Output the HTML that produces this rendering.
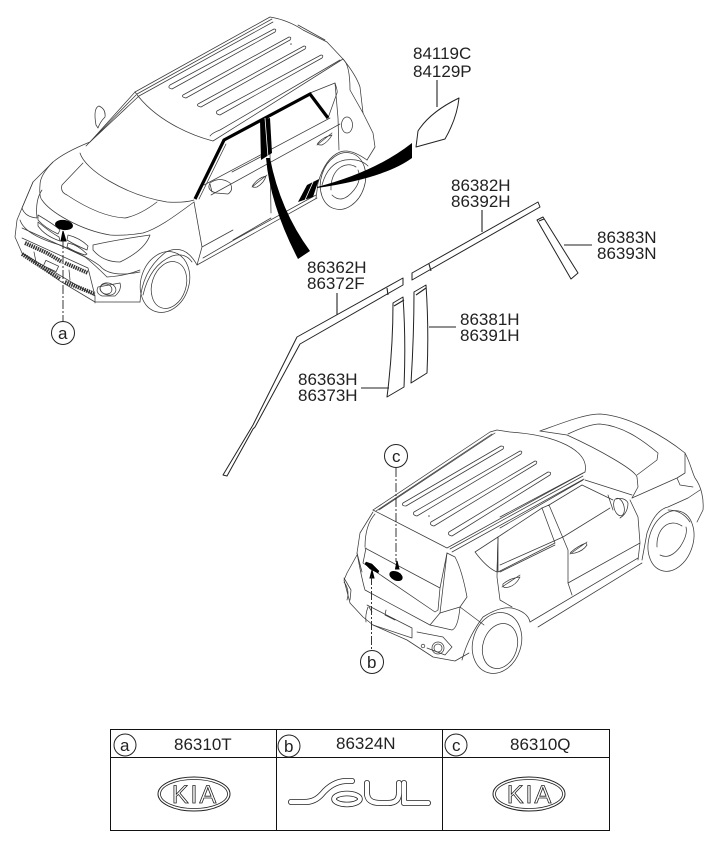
<!DOCTYPE html>
<html><head><meta charset="utf-8"><style>
html,body{margin:0;padding:0;background:#fff}
svg{display:block}
text{font-family:"Liberation Sans",sans-serif;font-size:17px;fill:#222}
.l{fill:none;stroke:#3a3a3a;stroke-width:.75;stroke-linejoin:round;stroke-linecap:round}
.d{fill:none;stroke:#222;stroke-width:1.1}
.p{fill:#fff;stroke:#222;stroke-width:1;stroke-linejoin:round}
.c{fill:#fff;stroke:#222;stroke-width:1}
.dash{fill:none;stroke:#222;stroke-width:.9;stroke-dasharray:9 2 2 2}
</style></head><body>
<svg width="720" height="848" viewBox="0 0 720 848" xmlns="http://www.w3.org/2000/svg">

<!-- FRONT CAR -->
<g class="l">
<path d="M135 92 L270 17 Q288 20 303 30 L327 42 L343 59 Q356 75 360 87 L363 113 L373 133 L375 147 L367 160"/>
<path d="M135 92 L90 142 Q65 152 53 162 L33 182 L22 208 L17 220 L15 237 L22 253 L60 281 L95 302 L140 302"/>
<path d="M137 94 L272 19 M139 96 L273 22 M90 142 L139 96 M86 146 L136 95"/>
<path d="M135 92 C155 120 190 135 213 141 L343 59"/>
<path d="M210 136 Q212 133 220 130 L340 60 M298 25 L325 40"/>
<path d="M80 153 C85 170 125 195 167 202 Q185 203 194 200"/>
<path d="M83 163 L62 185 Q60 192 67 195 C85 207 105 217 125 218 Q140 215 157 202"/>
<path d="M53 162 Q40 175 40 185 Q39 197 42 200 C50 212 80 230 110 235 Q125 236 143 233 C160 228 180 212 194 202"/>
<path d="M195 198 L223 140 L226 139 L310 93 L335 83 Q338 92 337 93 L328 118"/>
<path d="M199 199 L226 144"/>
<path d="M343 59 Q350 65 350 90 L363 113 M335 83 L338 118 L339 150"/>
<ellipse cx="347" cy="125" rx="5.500" ry="8"/>
<path d="M194 202 L202 247 L197 265 M202 247 L233 230 M197 265 L233 245 L317 198 M203 258 L234 240 L316 195"/>
<path d="M204 185 L330 118 M211 195 L340 124 M232 172 L270 152 M270 153 L271 213"/>
<path d="M233 240 L271 218"/>
<path d="M210 183 Q220 176 230 183 Q234 190 228 194 L216 193 Q206 190 210 183Z M210 184 L212 192"/>
<path d="M253 185 Q258 178 266 176 Q264 183 257 187 Q251 188 253 185Z M252 187 L267 175"/>
<path d="M318 143 Q323 137 332 135 Q328 142 322 145 Q316 145 318 143Z M317 145 L332 133"/>
<path d="M96 125 Q93 108 99 106 Q106 109 105 117 Q100 122 98 128Z"/>
<path d="M367 160 Q350 148 340 152 Q325 158 318 183 L316 198"/>
<path d="M322 185 Q328 163 345 160 Q360 158 368 166"/>
<ellipse cx="343" cy="181" rx="22" ry="29" transform="rotate(18 343 181)"/>
<path d="M331 190 C330 170 345 160 356 167 M332 195 Q342 205 354 190 Q362 180 358 170"/>
<path d="M33 182 L22 208 Q25 217 37 218 Q35 200 42 190"/>
<path d="M93 245 Q115 240 150 235 Q145 250 120 262 Q103 262 93 250Z"/>
<path d="M20 220 Q25 235 60 245 Q90 258 100 266 Q110 278 140 272"/>
<path d="M22 228 Q60 245 85 257 Q95 265 107 277 Q125 276 140 270"/>
<path d="M22 238 L88 268 L95 296 M22 253 L95 296 L95 303"/>
<path d="M38 215 Q55 225 60 230 L58 234 Q45 228 38 220Z M38 222 Q50 232 59 237 L60 241 Q45 236 38 226Z"/>
<path d="M68 235 Q80 238 88 246 L87 250 Q75 245 67 240Z M68 243 Q78 245 87 254 L85 255 Q75 252 67 247Z"/>
<path d="M98 287 L120 283 Q122 290 115 296 L102 296 Q95 293 98 287Z"/>
<ellipse cx="108" cy="289" rx="8" ry="6" transform="rotate(15 108 289)"/>
<ellipse cx="106" cy="289" rx="6" ry="5" transform="rotate(15 106 289)"/>
<path d="M140 302 Q142 270 166 252 Q185 243 197 265"/>
<path d="M143 295 Q150 265 172 256 Q185 252 192 262"/>
<ellipse cx="165" cy="282" rx="24" ry="31" transform="rotate(18 165 282)"/>
<ellipse cx="169" cy="285" rx="17" ry="24" transform="rotate(18 169 285)"/>
<path d="M170 85 L274 29 Q277 29 275 32 L172 89 Q167 88 170 85Z"/>
<path d="M183 95 L289 37 Q292 37 290 40 L186 98 Q181 97 183 95Z"/>
<path d="M198 104 L304 46 Q307 46 305 49 L201 107 Q196 106 198 104Z"/>
<path d="M217 111 L321 55 Q324 55 322 58 L220 115 Q215 114 217 111Z"/>
<rect x="44" y="263" width="14" height="6" transform="rotate(25 51 266)"/>
<path d="M34 252 L36 262 M69 270 L70 280"/>
</g>
<circle cx="291" cy="44" r=".8" fill="#555"/>
<path d="M25 243 L47 253 L62 262 M65 263 L88 273" fill="none" stroke="#333" stroke-width="4" stroke-dasharray="1.500 .8"/>
<path d="M22 254 L60 279 M65 282 L95 294" fill="none" stroke="#333" stroke-width="4" stroke-dasharray="1.500 .8"/>
<path d="M195 199 L224 140 L310 94 L328 118" fill="none" stroke="#000" stroke-width="3.200"/>
<path d="M260 120 L270 118 L272 153 L261 160Z" fill="#000"/>
<path d="M265 118 L268 157" stroke="#fff" stroke-width=".8"/>
<path d="M266 158 Q270 205 298 259 L310 251 Q280 210 270 158Z" fill="#000"/>
<path d="M298 202 L307 185 L319 179 L313 197Z" fill="#000"/>
<path d="M305 200 L313 182" stroke="#fff" stroke-width=".8"/>
<path d="M317 187 Q375 172 412 143 L412 158 Q385 178 317 188Z" fill="#000"/>
<ellipse cx="64" cy="225" rx="9" ry="5" transform="rotate(8 64 225)" fill="#000"/>
<path d="M61 241 L63 231 L66 241Z" fill="#000" stroke="#000"/>
<path class="dash" d="M63 240 V322"/>
<circle class="c" cx="63" cy="333" r="11.500"/>
<text x="58" y="339">a</text>

<!-- PARTS -->
<path class="p" d="M416 147 L418 131 Q430 112 459 98 Q457 118 445 139Z"/>
<text x="413" y="59">84119C</text><text x="413" y="77">84129P</text>
<path class="d" d="M437 80 V107"/>

<text x="451" y="191">86382H</text><text x="451" y="207">86392H</text>
<path class="d" d="M482 210 V232"/>
<path class="p" d="M412 273 L538 202 L540 207 L412 280Z"/>
<path class="d" d="M429 264 L431 271"/>
<path class="p" d="M537 220 L543 217 L578 273 L571 279Z"/>
<path class="d" d="M539 221 L544 219" />
<path class="d" d="M564 245 H592"/>
<text x="597" y="243">86383N</text><text x="597" y="259">86393N</text>

<text x="307" y="273">86362H</text><text x="307" y="289">86372F</text>
<path class="d" d="M337 293 V315"/>
<path class="p" d="M403 278 L403 285 L300 344 L255 427 L253 429 L227 476 L223 475 L253 425 L297 337Z"/>
<path class="d" d="M387 288 L388 295"/>

<path class="p" d="M393 303 L403 297 Q406 340 404 387 L387 397 Q393 350 393 303Z"/>
<path class="d" d="M394 306 L404 300"/>
<path class="p" d="M414 292 L426 285 Q429 330 427 373 L411 383 Q414 335 414 292Z"/>
<path class="d" d="M416 295 L426 288"/>
<path class="d" d="M429 327 H456"/>
<text x="460" y="325">86381H</text><text x="460" y="341">86391H</text>
<path class="d" d="M361 388 H389"/>
<text x="298" y="385">86363H</text><text x="298" y="401">86373H</text>

<!-- REAR CAR -->
<g class="l">
<path d="M373 510 L490 432 L497 430 L510 432 C555 435 590 450 585 472 M376 511 L492 434 M379 510 L495 433"/>
<path d="M373 510 L447 548 L585 472 M450 549 L583 476 M452 552 L584 479"/>
<path d="M540 431 C565 422 585 414 600 414 C630 416 665 437 685 453 C690 462 692 472 695 478 C701 486 704 498 703 510 L697 522"/>
<path d="M568 434 C585 426 595 424 600 424 C622 426 640 438 658 453 L657 460 L637 475"/>
<path d="M540 431 L567 435 C600 450 635 470 637 477 L638 487 L632 498"/>
<path d="M585 480 L632 495 M582 485 L613 500"/>
<path d="M632 498 L677 478 L685 473 L685 453 M677 478 L680 485 L693 487"/>
<ellipse cx="619" cy="507" rx="5" ry="9" transform="rotate(-15 619 507)"/>
<path d="M616 499 Q625 497 628 503 Q628 513 620 518 M608 495 L613 510"/>
<path d="M373 512 L360 533 L357 553 L362 572 M375 514 Q365 525 365 547"/>
<path d="M447 553 L440 588 L438 610 M365 548 L440 588"/>
<path d="M366 548 L363 563 L435 612 L438 610"/>
<path d="M357 553 Q362 580 365 590 L430 625 L440 613 L447 553"/>
<path d="M447 553 L455 557 Q462 570 467 597 L460 607 L440 613"/>
<path d="M357 555 L347 573 L344 580 L350 603 L363 617 L373 625"/>
<path d="M344 578 L351 590 L350 600 M344 582 Q350 590 347 600"/>
<path d="M368 607 Q365 615 366 622 M369 607 L372 612"/>
<path d="M367 605 L412 628 L412 638 L373 625 M386 610 L385 615 L395 620"/>
<path d="M417 632 L443 637 L452 647 L445 655 L427 648"/>
<ellipse cx="438" cy="648" rx="6" ry="6" />
<ellipse cx="438" cy="648" rx="4" ry="4"/>
<circle cx="423" cy="646" r="1.800"/>
<path d="M373 625 L407 640 L433 657 L455 661 L469 653"/>
<path d="M430 625 L452 630 Q458 628 460 607 L484 625"/>
<path d="M475 552 L498 537 L497 572 Q487 568 475 552Z"/>
<path d="M498 537 L542 508 L555 543 L498 572Z M498 537 L497 577 L500 600 L512 607"/>
<path d="M542 508 L549 505 L563 538 L568 550 L568 583 L572 595"/>
<path d="M500 528 L583 480 M500 517 L583 473"/>
<path d="M549 505 L582 485"/>
<path d="M500 565 L563 537 L610 508 M500 572 L555 545"/>
<path d="M630 500 L638 517 L640 543 L638 560 M568 583 L640 543"/>
<path d="M530 622 L638 558 M538 627 L642 563"/>
<path d="M571 552 Q578 546 586 543 L587 545 Q583 551 575 553 Q569 554 571 552Z M570 554 L587 542"/>
<path d="M503 584 Q510 578 520 577 Q516 585 509 587 Q502 589 503 584Z M502 587 L520 575"/>
<path d="M642 560 L647 533 Q655 510 668 507 L688 498 L700 490"/>
<ellipse cx="671" cy="541" rx="22" ry="31" transform="rotate(18 671 541)"/>
<path d="M657 547 C656 530 668 517 682 526 M660 555 Q670 560 680 547 Q688 535 686 527"/>
<path d="M668 510 Q682 510 690 522"/>
<path d="M462 660 Q468 637 483 617 Q500 606 512 608 Q528 612 530 622"/>
<ellipse cx="497" cy="643" rx="24" ry="31" transform="rotate(18 497 643)"/>
<ellipse cx="500" cy="646" rx="17" ry="23" transform="rotate(18 500 646)"/>
<path d="M403 503 L501 446 Q505 446 503 449 L406 506 Q401 506 403 503Z"/>
<path d="M414 512 L520 451 Q523 451 521 454 L417 516 Q412 515 414 512Z"/>
<path d="M431 522 L535 461 Q538 461 536 464 L434 526 Q429 525 431 522Z"/>
<path d="M449 532 L548 472 Q552 472 550 475 L452 536 Q447 535 449 532Z"/>
</g>
<circle cx="429" cy="516" r=".8" fill="#555"/>
<ellipse cx="396" cy="576" rx="7" ry="4.500" transform="rotate(25 396 576)" fill="#000"/>
<path d="M366 562 L372 564 L379 571 L378 573 L370 569 L365 564Z" fill="#000" stroke="#000" stroke-width=".5"/>
<path d="M395.500 569 L397 561 L399 569Z" fill="#000" stroke="#000"/>
<path d="M370 578 L372 570 L374 578Z" fill="#000" stroke="#000"/>
<path class="dash" d="M396 468 V562"/>
<path class="dash" d="M371.500 576 V650"/>
<circle class="c" cx="396" cy="456" r="11.500"/><text x="392" y="462">c</text>
<circle class="c" cx="372" cy="662" r="11.500"/><text x="367" y="668">b</text>

<!-- TABLE -->
<path d="M110.500 729.500 H609.500 V830.500 H110.500Z M110.500 757.500 H609.500 M276.500 729.500 V830.500 M442.500 729.500 V830.500" fill="none" stroke="#111" stroke-width="1"/>
<circle class="c" cx="125" cy="745" r="11"/><text x="120" y="751">a</text>
<circle class="c" cx="289" cy="746" r="11"/><text x="284" y="752">b</text>
<circle class="c" cx="456" cy="745" r="11"/><text x="452" y="751">c</text>
<text x="174" y="750">86310T</text>
<text x="336" y="749">86324N</text>
<text x="510" y="750">86310Q</text>

<ellipse cx="194" cy="794" rx="36" ry="17" fill="#fff" stroke="#222" stroke-width="1"/>
<ellipse cx="194" cy="794" rx="33.500" ry="14.500" fill="#fff" stroke="#222" stroke-width=".8"/>
<text x="195" y="803" text-anchor="middle" style="font-size:25px;fill:#fff;stroke:#222;stroke-width:.8;letter-spacing:2px">KIA</text>
<ellipse cx="529" cy="794" rx="36" ry="17" fill="#fff" stroke="#222" stroke-width="1"/>
<ellipse cx="529" cy="794" rx="33.500" ry="14.500" fill="#fff" stroke="#222" stroke-width=".8"/>
<text x="530" y="803" text-anchor="middle" style="font-size:25px;fill:#fff;stroke:#222;stroke-width:.8;letter-spacing:2px">KIA</text>

<g fill="none" stroke-linecap="round" stroke-linejoin="round">
<path d="M291 802 H305 Q315 802 322 794 Q332 782 345 781 H352" stroke="#222" stroke-width="6"/>
<ellipse cx="347" cy="799" rx="13" ry="5.500" stroke="#222" stroke-width="5.500"/>
<path d="M367 783 V793 Q367 803 380 803 H388 Q399 803 399 793 V783" stroke="#222" stroke-width="6"/>
<path d="M404 783 V803 H428" stroke="#222" stroke-width="6"/>
<path d="M291 802 H305 Q315 802 322 794 Q332 782 345 781 H352" stroke="#fff" stroke-width="4.400"/>
<ellipse cx="347" cy="799" rx="13" ry="5.500" stroke="#fff" stroke-width="3.900"/>
<path d="M367 783 V793 Q367 803 380 803 H388 Q399 803 399 793 V783" stroke="#fff" stroke-width="4.400"/>
<path d="M404 783 V803 H428" stroke="#fff" stroke-width="4.400"/>
</g>
</svg>
</body></html>
